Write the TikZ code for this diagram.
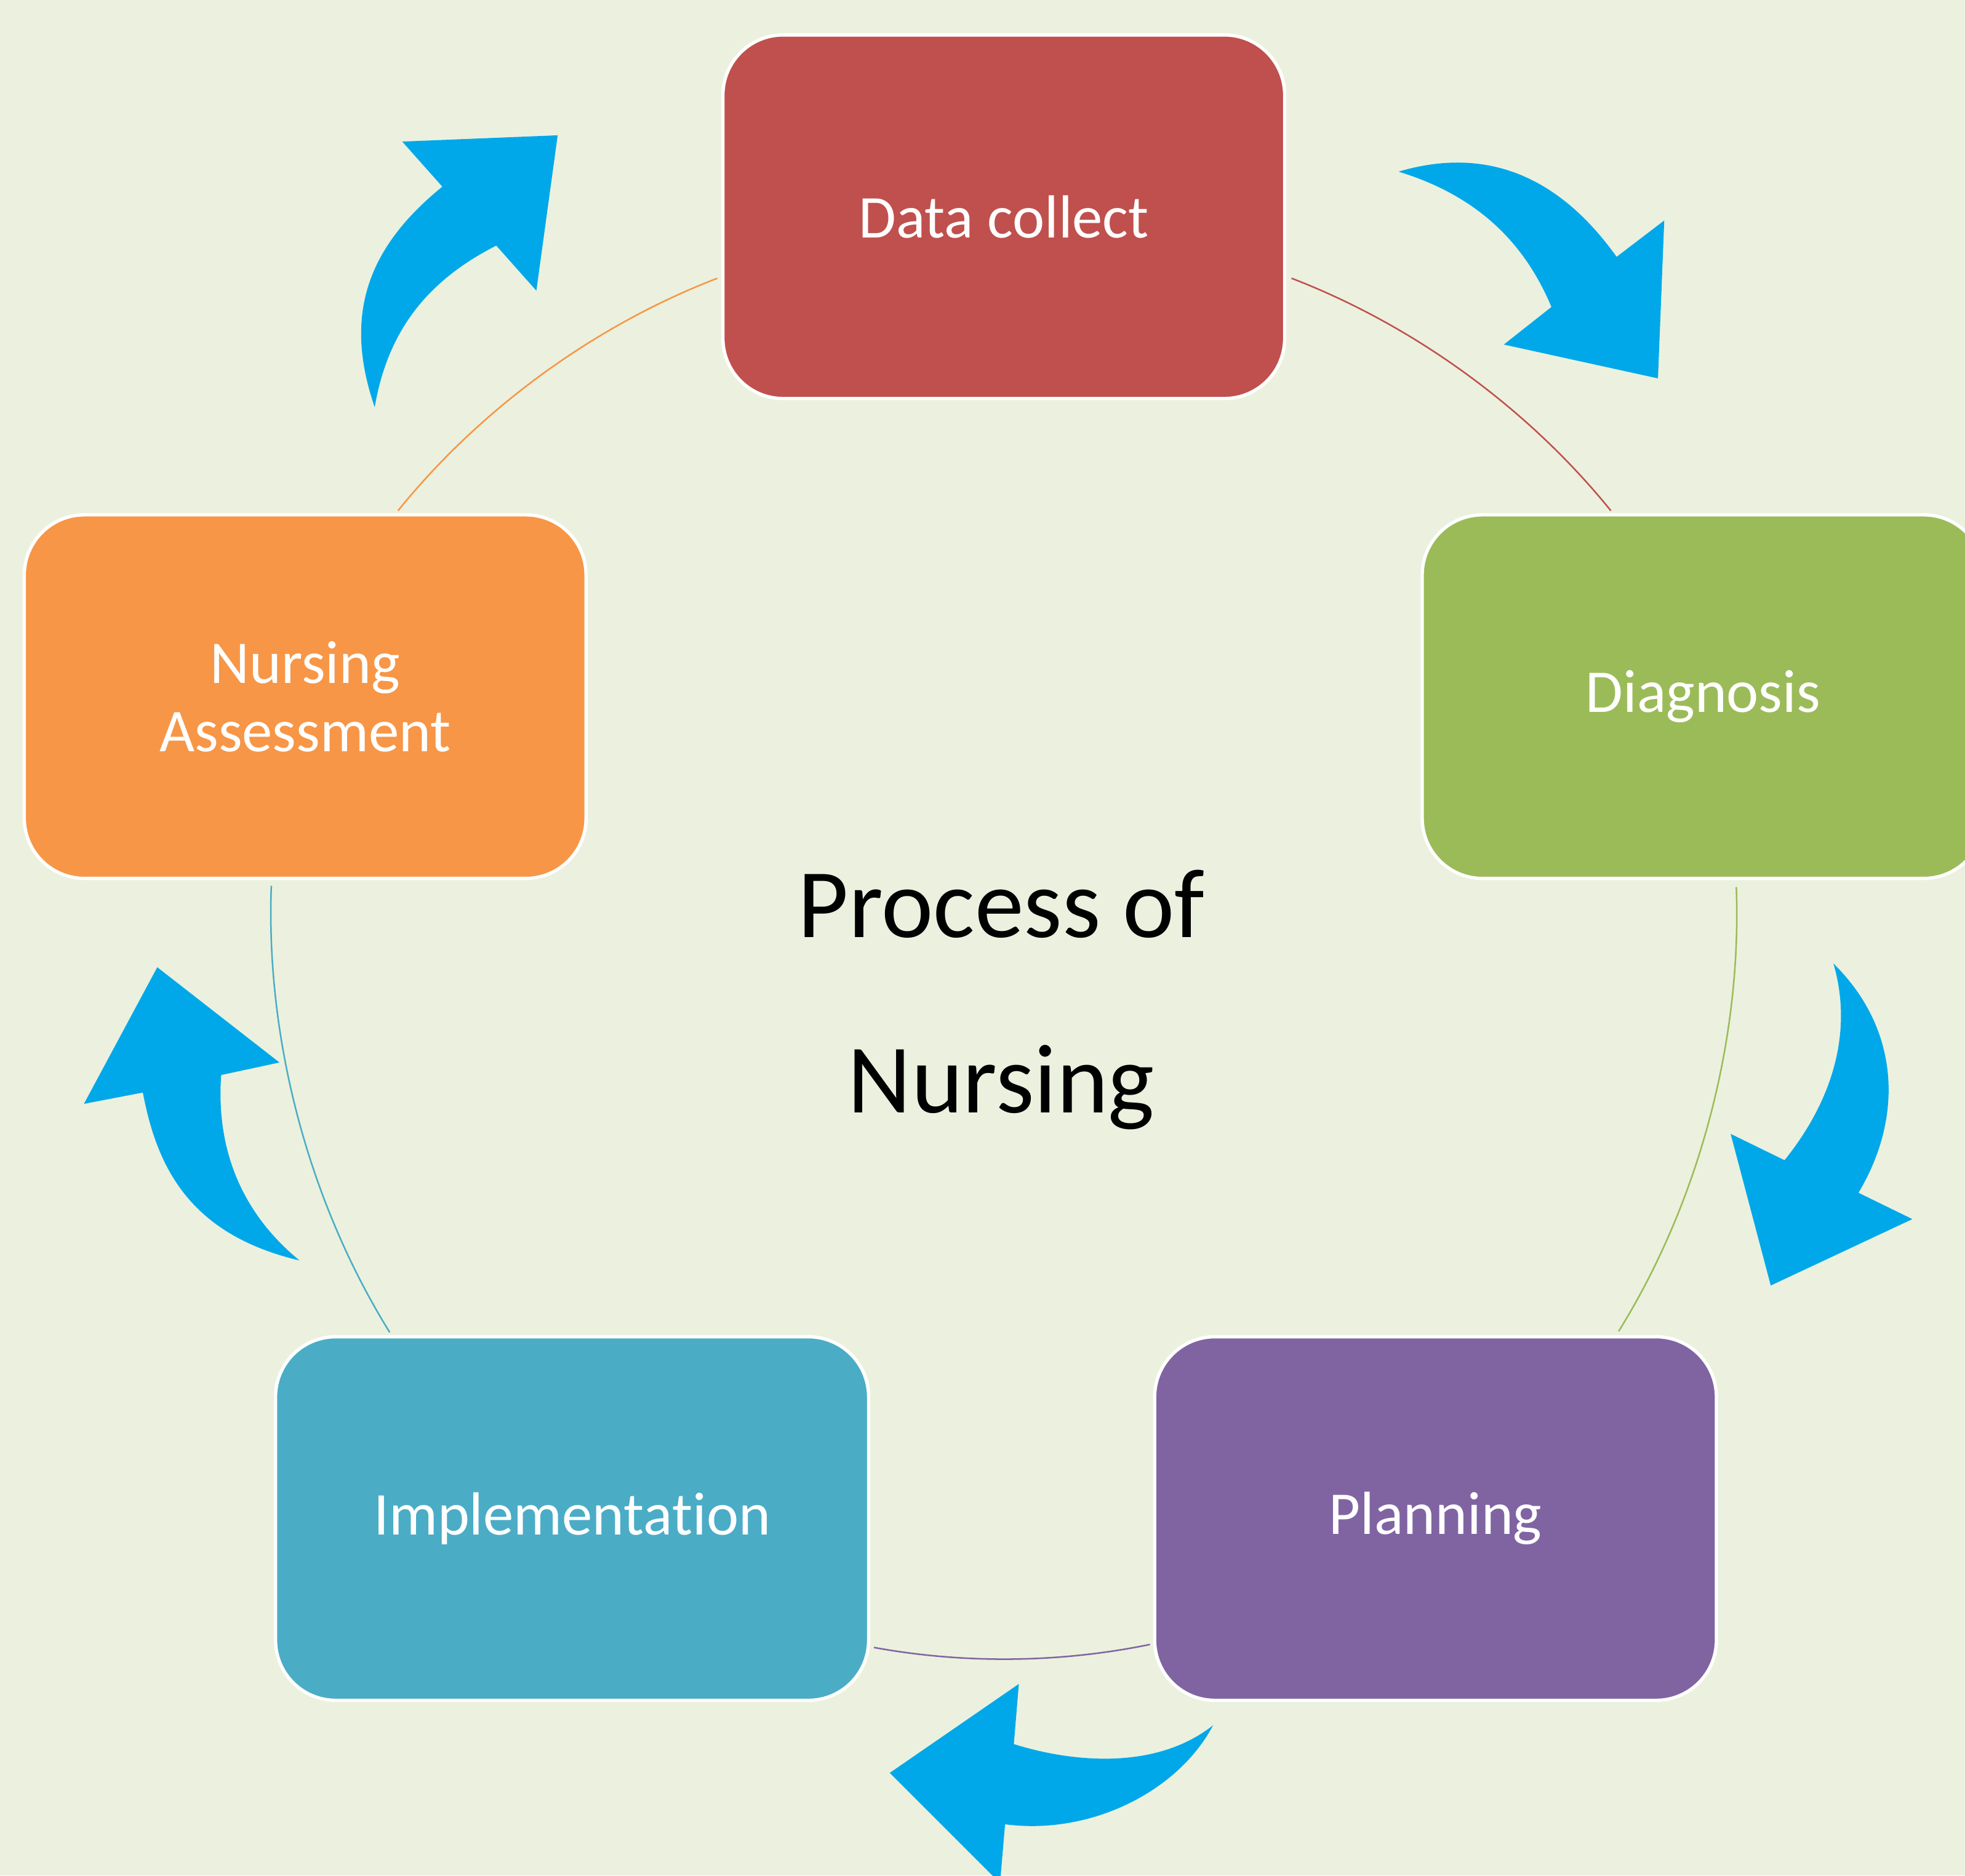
\documentclass[tikz,border=0pt]{standalone}
\usepackage{fontspec}
\setmainfont{Carlito}[Ligatures=NoCommon]
\usepackage{tikz}
\definecolor{bgcol}{HTML}{EBF1DE}
\definecolor{collectcol}{HTML}{C0504D}
\definecolor{diagcol}{HTML}{9BBB59}
\definecolor{plancol}{HTML}{8064A2}
\definecolor{implcol}{HTML}{4BACC6}
\definecolor{assesscol}{HTML}{F79646}
\definecolor{turnblue}{HTML}{00A8EA}

\begin{document}
\begin{tikzpicture}[x=0.01cm,y=-0.01cm,
  stage/.style={draw=white, line width=0.75pt, rounded corners=0.48cm,
    minimum width=4.48cm, minimum height=2.9cm, inner sep=0pt,
    text=white, align=center, font=\fontsize{13.8}{15.5}\selectfont},
  ring/.style={line width=0.35pt, looseness=0.85},
  turn/.style={fill=turnblue, draw=none}]
\fill[bgcol] (0,0) rectangle (1568,1497);
\useasboundingbox (0,0) rectangle (1568,1497);

% ends of the ring pieces
\coordinate (r1) at (317.6,407.6);
\coordinate (r2) at (572.4,222.1);
\coordinate (r3) at (1030.6,222.1);
\coordinate (r4) at (1285.4,407.6);
\coordinate (r5) at (1385.5,708);
\coordinate (r6) at (1291.6,1062.6);
\coordinate (r7) at (917.6,1312.5);
\coordinate (r8) at (697.4,1314.9);
\coordinate (r9) at (311,1063.4);
\coordinate (r10) at (216.5,707);
\draw[ring,assesscol] (r1) to[bend left=15] (r2);
\draw[ring,collectcol] (r3) to[bend left=15] (r4);
\draw[ring,diagcol] (r5) to[bend left=17] (r6);
\draw[ring,plancol] (r7) to[bend left=11] (r8);
\draw[ring,implcol] (r9) to[bend left=17] (r10);

\node[stage, fill=collectcol] (collect) at (801,173) {Data collect};
\node[stage, fill=diagcol] (diag) at (1359,556) {Diagnosis};
\node[stage, fill=plancol] (plan) at (1145.5,1212) {Planning};
\node[stage, fill=implcol, minimum width=4.73cm] (impl) at (456.5,1212) {Implementation};
\node[stage, fill=assesscol] (assess) at (243.5,556) {Nursing\\Assessment};

\node[font=\fontsize{22.3}{39.8}\selectfont, align=center, anchor=base] (title) at (799,888) {Process of\\Nursing};

% blue curved arrows
\fill[turn] (1116,137) .. controls (1180,118) and (1240,135) .. (1290,205)
  -- (1328,176) -- (1323,302) -- (1200,275) -- (1238,245)
  .. controls (1215,190) and (1175,155) .. (1116,137) -- cycle;
\fill[turn] (1463,769) .. controls (1515,820) and (1520,890) .. (1483,952)
  -- (1526,973) -- (1413,1026) -- (1381,905) -- (1424,926)
  .. controls (1465,875) and (1478,820) .. (1463,769) -- cycle;
\fill[turn] (968,1377) .. controls (940,1430) and (870,1465) .. (802,1456)
  -- (798,1503) -- (710,1415) -- (813,1344) -- (809,1392)
  .. controls (850,1405) and (920,1415) .. (968,1377) -- cycle;
\fill[turn] (239,1006) .. controls (150,985) and (125,930) .. (114,872)
  -- (67,881) -- (125.5,772) -- (223,848) -- (176.5,858)
  .. controls (172,920) and (195,970) .. (239,1006) -- cycle;
\fill[turn] (299,325) .. controls (275,255) and (290,200) .. (353,149)
  -- (321,113) -- (445,108) -- (428,232) -- (396,196)
  .. controls (345,222) and (310,260) .. (299,325) -- cycle;

\end{tikzpicture}
\end{document}
